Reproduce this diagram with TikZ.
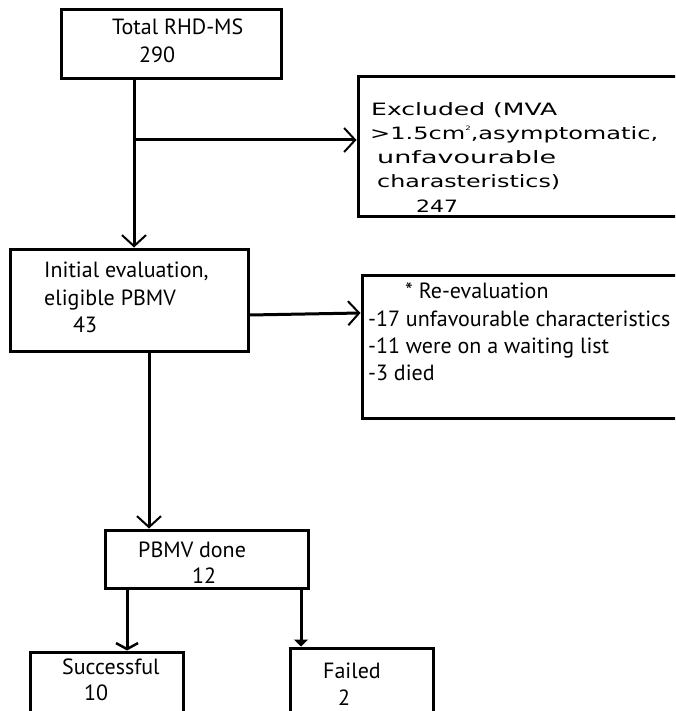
\documentclass[tikz,border=0pt]{standalone}
\usepackage{fontspec}
\setmainfont{PT Sans}
\newfontfamily\exfont{DejaVu Sans}
\usetikzlibrary{arrows.meta}
\newcommand{\fitw}[2]{\resizebox{#1}{\height}{#2}}
\tikzset{
  box/.style={draw, line width=3pt, inner sep=0pt},
  conn/.style={line width=3pt, -{Straight Barb[length=11pt,width=24pt,line width=2pt]}},
  connS/.style={line width=3pt, -{Straight Barb[length=6pt,width=22pt,line width=2.5pt]}},
  connF/.style={line width=3pt, -{Triangle[length=7pt,width=14pt]}},
  txt/.style={anchor=base west, inner sep=0pt, font=\fontsize{22}{26}\selectfont},
  extxt/.style={anchor=base west, inner sep=0pt, font=\exfont\fontsize{17}{21}\selectfont},
}
\begin{document}
\begin{tikzpicture}[x=1pt,y=-1pt]
\useasboundingbox (0,0) rectangle (675,711);
\clip (0,0) rectangle (675,711);
% boxes
\node[box, minimum width=220pt, minimum height=69pt] (total) at (171,44) {};
\node[box, minimum width=332pt, minimum height=140pt] (excl) at (524,147) {};
\node[box, minimum width=238pt, minimum height=102pt] (init) at (129,300) {};
\node[box, minimum width=328pt, minimum height=143pt] (reev) at (526,346.5) {};
\node[box, minimum width=203pt, minimum height=58pt] (pbmv) at (206.5,559) {};
\node[box, minimum width=153pt, minimum height=78pt] (succ) at (106.5,691) {};
\node[box, minimum width=143pt, minimum height=82pt] (fail) at (361.5,689) {};
% texts
\node[txt] (t1) at (112,35) {Total RHD-MS};
\node[txt] (t2) at (139,63) {290};
\node[extxt] (e1) at (371,116) {\fitw{186pt}{Excluded (MVA}};
\node[extxt] (e2) at (370,140) {\fitw{288pt}{>1.5cm\raisebox{9pt}{\fontsize{6}{6}\selectfont 2},asymptomatic,}};
\node[extxt] (e3) at (377,164) {\fitw{179pt}{unfavourable}};
\node[extxt] (e4) at (377,188) {\fitw{183pt}{charasteristics)}};
\node[extxt] (e5) at (416,213) {\fitw{42pt}{247}};
\node[txt] (i1) at (44,277) {Initial evaluation,};
\node[txt] (i2) at (44,305) {eligible PBMV};
\node[txt] (i3) at (73,332) {43};
\node[txt] (r1) at (405,298) {* Re-evaluation};
\node[txt] (r2) at (368,326) {-17 unfavourable characteristics};
\node[txt] (r3) at (368,353) {-11 were on a waiting list};
\node[txt] (r4) at (368,380) {-3 died};
\node[txt] (p1) at (138,557) {PBMV done};
\node[txt] (p2) at (192,583) {12};
\node[txt] (s1) at (62,674) {Successful};
\node[txt] (s2) at (84,700) {10};
\node[txt] (f1) at (323,678) {Failed};
\node[txt] (f2) at (338,705) {2};
% connectors
\coordinate (br) at (134,140);
\draw[line width=3pt] (total.south -| br) -- (br);
\draw[conn] (br) -- (br -| excl.west);
\draw[conn] (br) -- (init.north -| br);
\draw[conn] (init.east |- 0,315) -- (reev.west |- 0,313);
\draw[conn] (init.south -| 149,0) -- (pbmv.north -| 149,0);
\draw[connS] (pbmv.south -| 127,0) -- (succ.north -| 127,0);
\draw[connF] (pbmv.south -| 301,0) -- (fail.north -| 301,0);
\end{tikzpicture}
\end{document}
